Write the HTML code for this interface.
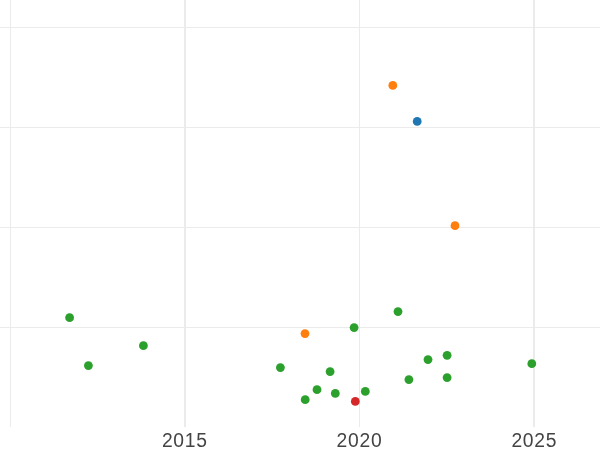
<!DOCTYPE html>
<html>
<head>
<meta charset="utf-8">
<style>
html,body{margin:0;padding:0;background:#ffffff;}
body{width:600px;height:450px;overflow:hidden;}
svg{display:block;}
text{font-family:"Liberation Sans",sans-serif;font-size:19.3px;letter-spacing:0.72px;fill:#444444;text-anchor:middle;}
</style>
</head>
<body>
<svg width="600" height="450" viewBox="0 0 600 450">
<rect x="0" y="0" width="600" height="450" fill="#ffffff"/>
<g fill="#ebebeb" shape-rendering="crispEdges">
<rect x="0" y="27" width="600" height="1"/>
<rect x="0" y="127" width="600" height="1"/>
<rect x="0" y="227" width="600" height="1"/>
<rect x="0" y="327" width="600" height="1"/>
<rect x="10" y="0" width="1" height="427"/>
<rect x="184" y="0" width="2" height="427"/>
<rect x="359" y="0" width="1" height="427"/>
<rect x="533" y="0" width="2" height="427"/>
</g>
<g fill="#2ca02c">
<circle cx="69.6" cy="317.65" r="4.4"/>
<circle cx="88.4" cy="365.55" r="4.4"/>
<circle cx="143.4" cy="345.65" r="4.4"/>
<circle cx="354.1" cy="327.55" r="4.4"/>
<circle cx="398" cy="311.55" r="4.4"/>
<circle cx="280.4" cy="367.55" r="4.4"/>
<circle cx="330.1" cy="371.55" r="4.4"/>
<circle cx="317" cy="389.65" r="4.4"/>
<circle cx="305.2" cy="399.65" r="4.4"/>
<circle cx="335.3" cy="393.45" r="4.4"/>
<circle cx="365.3" cy="391.45" r="4.4"/>
<circle cx="408.9" cy="379.55" r="4.4"/>
<circle cx="428" cy="359.55" r="4.4"/>
<circle cx="447.1" cy="355.35" r="4.4"/>
<circle cx="447.1" cy="377.55" r="4.4"/>
<circle cx="531.8" cy="363.65" r="4.4"/>
</g>
<g fill="#ff7f0e">
<circle cx="392.8" cy="85.45" r="4.4"/>
<circle cx="455" cy="225.65" r="4.4"/>
<circle cx="305" cy="333.55" r="4.4"/>
</g>
<circle cx="417.2" cy="121.45" r="4.4" fill="#1f77b4"/>
<circle cx="355.3" cy="401.45" r="4.4" fill="#d62728"/>
<g style="will-change:transform;opacity:0.999">
<text x="184.8" y="447">2015</text>
<text x="359.5" y="447">2020</text>
<text x="534.3" y="447">2025</text>
</g>
</svg>
</body>
</html>
